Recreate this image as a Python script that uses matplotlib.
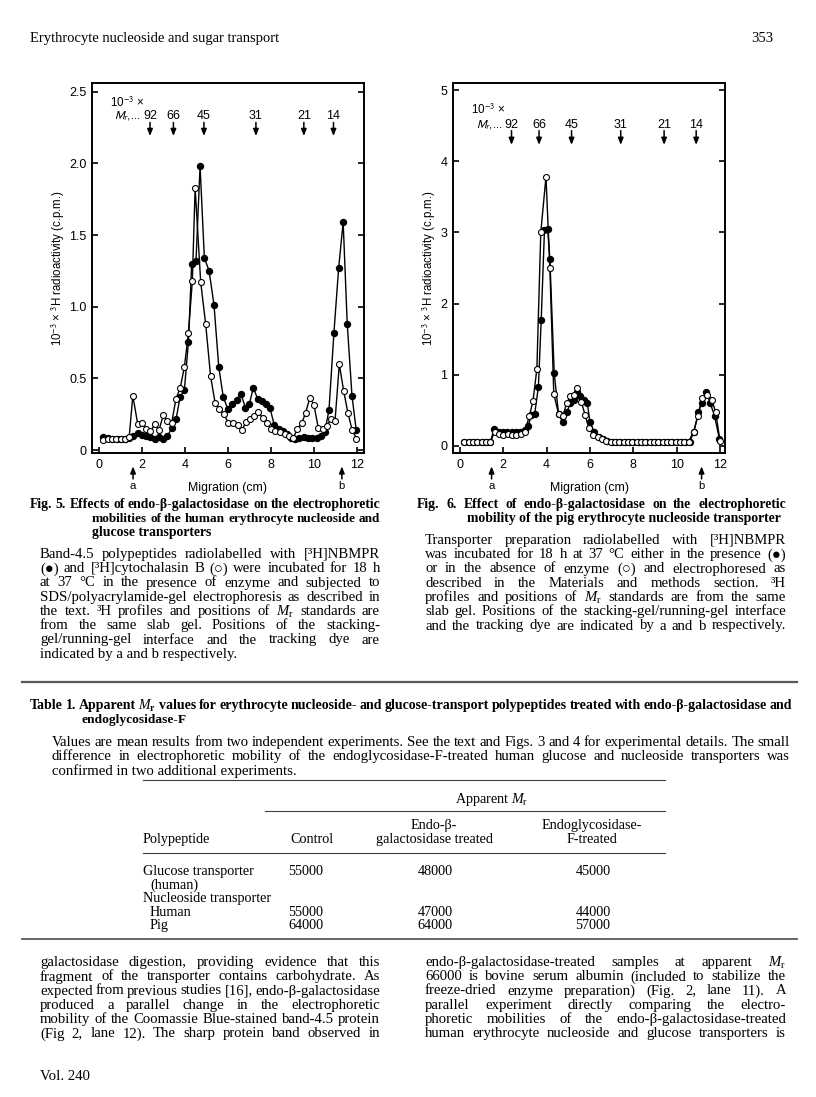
import numpy as np
import matplotlib
matplotlib.use('Agg')
from matplotlib import pyplot as plt
from matplotlib.lines import Line2D

plt.rcParams['mathtext.fontset'] = 'custom'
plt.rcParams['mathtext.rm'] = 'Liberation Serif'
plt.rcParams['mathtext.it'] = 'Liberation Serif:italic'
plt.rcParams['mathtext.bf'] = 'Liberation Serif:bold'

# ---- Fig. 5 : human, filled = [3H]NBMPR, open = [3H]cytochalasin B
x5_fill = [0.20, 0.40, 0.60, 0.82, 1.02, 1.22, 1.41, 1.60, 1.80, 2.00, 2.19, 2.39, 2.59, 2.79, 2.99, 3.18,
           3.38, 3.58, 3.77, 3.97, 4.16, 4.31, 4.51, 4.70, 4.90, 5.12, 5.35, 5.57, 5.78, 6.00, 6.20, 6.40,
           6.60, 6.81, 6.99, 7.18, 7.38, 7.58, 7.77, 7.95, 8.16, 8.36, 8.54, 8.73, 8.93, 9.13, 9.32, 9.52,
           9.72, 9.92, 10.12, 10.31, 10.51, 10.70, 10.93, 11.15, 11.36, 11.55, 11.77, 11.97]
y5_fill = [.093, .086, .081, .079, .081, .081, .086, .102, .121, .109, .102, .093, .081, .090, .081, .098,
           .151, .214, .37, .42, .757, 1.30, 1.32, 1.98, 1.34, 1.25, 1.01, .58, .37, .284, .319, .35,
           .39, .297, .32, .435, .357, .34, .325, .295, .172, .144, .132, .114, .086, .081, .086, .09,
           .086, .086, .086, .098, .128, .28, .817, 1.27, 1.59, .88, .38, .137]
x5_open = [0.2, 0.4, 0.6, 0.8, 1.0, 1.2, 1.4, 1.57, 1.8, 2.0, 2.19, 2.39, 2.59, 2.79, 2.99,
           3.18, 3.38, 3.58, 3.77, 3.97, 4.16, 4.34, 4.47, 4.73, 4.96, 5.19, 5.4, 5.6, 5.81, 6.02, 6.25,
           6.48, 6.64, 6.84, 7.02, 7.21, 7.41, 7.61, 7.8, 8.0, 8.2, 8.42, 8.65, 8.85, 9.04, 9.22, 9.44,
           9.61, 9.81, 10.0, 10.2, 10.4, 10.6, 10.78, 10.98, 11.18, 11.38, 11.58, 11.78, 11.98]
y5_open = [.07, .075, .075, .075, .078, .08, .09, .38, .18, .19, .15, .13, .18, .14, .246,
           .2, .19, .36, .43, .58, .82, 1.18, 1.83, 1.17, .88, .515, .33, .29, .25, .19, .19,
           .174, .14, .195, .22, .237, .265, .225, .19, .149, .132, .125, .11, .098, .086, .144, .19,
           .26, .364, .318, .155, .149, .167, .214, .20, .60, .415, .26, .139, .08]

# ---- Fig. 6 : pig, filled = + enzyme, open = - enzyme
x6_fill = [0.2, 0.4, 0.6, 0.8, 1.0, 1.2, 1.4, 1.58, 1.78, 1.98, 2.18, 2.38, 2.58, 2.78, 2.98,
           3.15, 3.3, 3.45, 3.62, 3.75, 3.9, 4.05, 4.15, 4.35, 4.55, 4.75, 4.92, 5.1, 5.25, 5.4, 5.55,
           5.72, 5.88, 6.0, 6.2, 6.4, 6.6, 6.8, 7.0, 7.2, 7.4, 7.6, 7.8, 8.0, 8.2, 8.4, 8.6,
           8.8, 9.0, 9.2, 9.4, 9.6, 9.8, 10.0, 10.2, 10.4, 10.6, 10.8, 11.0, 11.15, 11.35, 11.55, 11.75, 11.97]
y6_fill = [.05, .05, .05, .05, .05, .05, .05, .24, .19, .19, .20, .20, .19, .20, .22,
           .28, .44, .45, .83, 1.77, 3.03, 3.05, 2.62, 1.02, .45, .33, .47, .6, .65, .76, .7,
           .65, .6, .33, .2, .13, .1, .07, .05, .05, .05, .05, .05, .05, .05, .05, .05,
           .05, .05, .05, .05, .05, .05, .05, .05, .06, .06, .2, .47, .6, .76, .6, .42, .1]
x6_open = [0.2, 0.4, 0.6, 0.8, 1.0, 1.2, 1.4, 1.6, 1.8, 2.0, 2.2, 2.4, 2.6, 2.8, 3.0,
           3.2, 3.37, 3.55, 3.73, 3.97, 4.15, 4.33, 4.55, 4.75, 4.92, 5.1, 5.25, 5.42, 5.6, 5.78, 5.95,
           6.15, 6.35, 6.55, 6.75, 6.95, 7.15, 7.35, 7.55, 7.75, 7.95, 8.15, 8.35, 8.55, 8.75, 8.95, 9.15,
           9.35, 9.55, 9.75, 9.95, 10.15, 10.35, 10.55, 10.78, 10.98, 11.17, 11.4, 11.62, 11.8, 12.0]
y6_open = [.05, .05, .05, .05, .05, .05, .05, .2, .16, .15, .16, .15, .15, .16, .2,
           .42, .63, 1.08, 3.0, 3.78, 2.5, .73, .45, .42, .6, .7, .72, .82, .62, .43, .25,
           .15, .12, .09, .07, .05, .05, .05, .05, .05, .05, .05, .05, .05, .05, .05, .05,
           .05, .05, .05, .05, .05, .06, .06, .2, .42, .67, .72, .65, .47, .07]

# Mr standards (10^-3 x) and where they ran
mr_labels = ['92', '66', '45', '31', '21', '14']
mr_pos5 = [2.37, 3.46, 4.88, 7.30, 9.53, 10.91]
mr_pos6 = [2.38, 3.65, 5.15, 7.42, 9.42, 10.9]
ab_pos5 = [1.58, 11.3]
ab_pos6 = [1.46, 11.15]

W, H = 816, 1097
fig = plt.figure(figsize=(W / 100, H / 100), dpi=100)
fig.patch.set_facecolor('white')
rend = fig.canvas.get_renderer()

SERIF = ['Liberation Serif', 'DejaVu Serif', 'DejaVu Sans']
SANS = 'Liberation Sans'
BODY = 10.6
BOLD = 9.9
LS = 14.25   # line step in px


def fx(x):
    return x / W


def fy(y):
    return 1 - y / H


def line_txt(s, x0, y, size=BODY, weight='normal', x1=None, ha='left'):
    """one line of text; spread across x0..x1 when x1 is given (justified)"""
    if x1 is None:
        fig.text(fx(x0), fy(y), s, fontsize=size, fontweight=weight, family=SERIF,
                 ha=ha, va='center_baseline')
        return
    words = s.split(' ')
    while True:
        arts = [fig.text(0, 0, w, fontsize=size, fontweight=weight, family=SERIF,
                         va='center_baseline') for w in words]
        wid = [a.get_window_extent(rend).width for a in arts]
        gap = (x1 - x0 - sum(wid)) / max(len(words) - 1, 1)
        if gap >= size * 0.22 or size < 6:
            break
        for a in arts:
            a.remove()
        size -= 0.2
    x = x0
    for a, w in zip(arts, wid):
        a.set_position((fx(x), fy(y)))
        x += w + gap


def hrule(x0, x1, y, lw=0.8, c='0.25'):
    fig.add_artist(Line2D([fx(x0), fx(x1)], [fy(y), fy(y)], lw=lw, color=c))


ARROW = dict(arrowstyle='-|>,head_length=0.4,head_width=0.16', color='black', lw=1.1,
             shrinkA=0, shrinkB=0)


def panel(box, xf, yf, xo, yo, ylim, yticks, yticklab, mr_pos, mr_y, ab_pos, xlim):
    l, t, r, b = box
    ax = fig.add_axes([fx(l), fy(b), fx(r - l), (b - t) / H])
    ax.plot(xf, yf, '-o', color='black', lw=1.0, ms=4.3, mfc='black', mec='black', zorder=3)
    ax.plot(xo, yo, '-o', color='black', lw=1.0, ms=4.3, mfc='white', mec='black', mew=0.8, zorder=4)
    ax.set_xlim(*xlim)
    ax.set_ylim(*ylim)
    ax.set_xticks([0, 2, 4, 6, 8, 10, 12])
    ax.set_yticks(yticks)
    ax.set_yticklabels(yticklab)
    for s in ax.spines.values():
        s.set_linewidth(1.4)
    ax.tick_params(direction='in', length=4, width=1.2, right=True, labelsize=9, pad=4)
    for lab in ax.get_xticklabels() + ax.get_yticklabels():
        lab.set_family(SANS)
    ax.set_xlabel('Migration (cm)', fontsize=8.8, family=SANS, labelpad=8)
    ax.set_ylabel('10$^{-3}$ × $^{3}$H radioactivity (c.p.m.)', fontsize=8.3, family=SANS,
                  math_fontfamily='stixsans', labelpad=1.5)
    # molecular-weight markers along the top
    ytxt, ytop, ytip = mr_y
    ax.text(0.5, ytxt[0], '10$^{-3}$ ×', fontsize=8.4, family=SANS, math_fontfamily='stixsans',
            va='center')
    ax.text(mr_pos[0] - 0.42, ytxt[1], r'$M_r$,...', fontsize=8.4, family=SANS,
            math_fontfamily='stixsans', ha='right', va='center')
    for p, lab in zip(mr_pos, mr_labels):
        ax.text(p, ytxt[1], lab, fontsize=9, family=SANS, ha='center', va='center')
        ax.annotate('', xy=(p, ytip), xytext=(p, ytop), arrowprops=ARROW)
    # stacking gel interface (a) and tracking dye (b)
    for p, lab in zip(ab_pos, ['a', 'b']):
        ax.annotate('', xy=(p, -0.036), xytext=(p, -0.07), xycoords=('data', 'axes fraction'),
                    textcoords=('data', 'axes fraction'), annotation_clip=False, arrowprops=ARROW)
        ax.text(p, -0.09, lab, fontsize=8.2, family=SANS, ha='center', va='center',
                transform=ax.get_xaxis_transform())
    return ax


panel((92, 83, 364, 453), x5_fill, y5_fill, x5_open, y5_open, (-0.02, 2.56),
      [0, 0.5, 1.0, 1.5, 2.0, 2.5], ['0', '0.5', '1.0', '1.5', '2.0', '2.5'],
      mr_pos5, ((2.42, 2.33), 2.285, 2.19), ab_pos5, (-0.33, 12.33))
panel((453, 83, 725, 453), x6_fill, y6_fill, x6_open, y6_open, (-0.1, 5.1),
      [0, 1, 2, 3, 4, 5], ['0', '1', '2', '3', '4', '5'],
      mr_pos6, ((4.72, 4.51), 4.43, 4.23), ab_pos6, (-0.32, 12.23))

# ---- page text
line_txt('Erythrocyte nucleoside and sugar transport', 30, 37, size=10.5)
line_txt('353', 773, 37, size=10.5, ha='right')

fig5_title = ['Fig. 5. Effects of endo-β-galactosidase on the electrophoretic',
              'mobilities of the human erythrocyte nucleoside and',
              'glucose transporters']
line_txt(fig5_title[0], 30, 503, BOLD, 'bold', 380)
line_txt(fig5_title[1], 92, 517, BOLD, 'bold', 380)
line_txt(fig5_title[2], 92, 531, BOLD, 'bold')

fig5_body = ['Band-4.5 polypeptides radiolabelled with [³H]NBMPR',
             '(●) and [³H]cytochalasin B (○) were incubated for 18 h',
             'at 37 °C in the presence of enzyme and subjected to',
             'SDS/polyacrylamide-gel electrophoresis as described in',
             r'the text. ³H profiles and positions of $M_\mathrm{r}$ standards are',
             'from the same slab gel. Positions of the stacking-',
             'gel/running-gel interface and the tracking dye are',
             'indicated by a and b respectively.']
for i, s in enumerate(fig5_body):
    line_txt(s, 40, 553 + LS * i, x1=None if i == len(fig5_body) - 1 else 380)

fig6_title = ['Fig. 6. Effect of endo-β-galactosidase on the electrophoretic',
              'mobility of the pig erythrocyte nucleoside transporter']
line_txt(fig6_title[0], 417, 503, BOLD, 'bold', 786)
line_txt(fig6_title[1], 467, 517, BOLD, 'bold')

fig6_body = ['Transporter preparation radiolabelled with [³H]NBMPR',
             'was incubated for 18 h at 37 °C either in the presence (●)',
             'or in the absence of enzyme (○) and electrophoresed as',
             'described in the Materials and methods section. ³H',
             r'profiles and positions of $M_\mathrm{r}$ standards are from the same',
             'slab gel. Positions of the stacking-gel/running-gel interface',
             'and the tracking dye are indicated by a and b respectively.']
for i, s in enumerate(fig6_body):
    line_txt(s, 425, 539 + LS * i, x1=786)

hrule(22, 797, 682, lw=1.6, c='0.35')

line_txt(r'Table 1. Apparent $\mathit{M}_\mathbf{r}$ values for erythrocyte nucleoside- and glucose-transport '
         'polypeptides treated with endo-β-galactosidase and', 30, 704, 10.4, 'bold', 792)
line_txt('endoglycosidase-F', 82, 719, 9.7, 'bold')

tab_note = ['Values are mean results from two independent experiments. See the text and Figs. 3 and 4 '
            'for experimental details. The small',
            'difference in electrophoretic mobility of the endoglycosidase-F-treated human glucose '
            'and nucleoside transporters was',
            'confirmed in two additional experiments.']
for i, s in enumerate(tab_note):
    line_txt(s, 52, 741 + LS * i, x1=None if i == 2 else 790)

# ---- Table 1
row_names = ['Glucose transporter', '(human)', 'Nucleoside transporter', 'Human', 'Pig']
row_indent = [0, 7, 0, 7, 7]
control = ['55000', '', '', '55000', '64000']
endo_b = ['48000', '', '', '47000', '64000']
endo_f = ['45000', '', '', '44000', '57000']
col_x = [306, 435, 593]
TS = 10.2

hrule(143, 665, 780)
line_txt(r'Apparent $M_\mathrm{r}$', 492, 797, TS, ha='center')
hrule(265, 665, 811)
line_txt('Endo-β-', 434, 824, TS, ha='center')
line_txt('Endoglycosidase-', 592, 824, TS, ha='center')
line_txt('Polypeptide', 143, 838, TS)
line_txt('Control', 312, 838, TS, ha='center')
line_txt('galactosidase treated', 434, 838, TS, ha='center')
line_txt('F-treated', 592, 838, TS, ha='center')
hrule(143, 665, 853)
for i, name in enumerate(row_names):
    yy = 870 + 13.6 * i
    line_txt(name, 143 + row_indent[i], yy, TS)
    for cx, col in zip(col_x, [control, endo_b, endo_f]):
        if col[i]:
            line_txt(col[i], cx, yy, TS, ha='center')
hrule(22, 797, 939, lw=1.3, c='0.35')

left_col = ['galactosidase digestion, providing evidence that this',
            'fragment of the transporter contains carbohydrate. As',
            'expected from previous studies [16], endo-β-galactosidase',
            'produced a parallel change in the electrophoretic',
            'mobility of the Coomassie Blue-stained band-4.5 protein',
            '(Fig 2, lane 12). The sharp protein band observed in']
right_col = [r'endo-β-galactosidase-treated samples at apparent $M_\mathrm{r}$',
             '66000 is bovine serum albumin (included to stabilize the',
             'freeze-dried enzyme preparation) (Fig. 2, lane 11). A',
             'parallel experiment directly comparing the electro-',
             'phoretic mobilities of the endo-β-galactosidase-treated',
             'human erythrocyte nucleoside and glucose transporters is']
for i, s in enumerate(left_col):
    line_txt(s, 40, 961 + LS * i, x1=380)
for i, s in enumerate(right_col):
    line_txt(s, 425, 961 + LS * i, x1=786)
line_txt('Vol. 240', 40, 1075, 10.6)

fig.savefig('out.png', dpi=100)
